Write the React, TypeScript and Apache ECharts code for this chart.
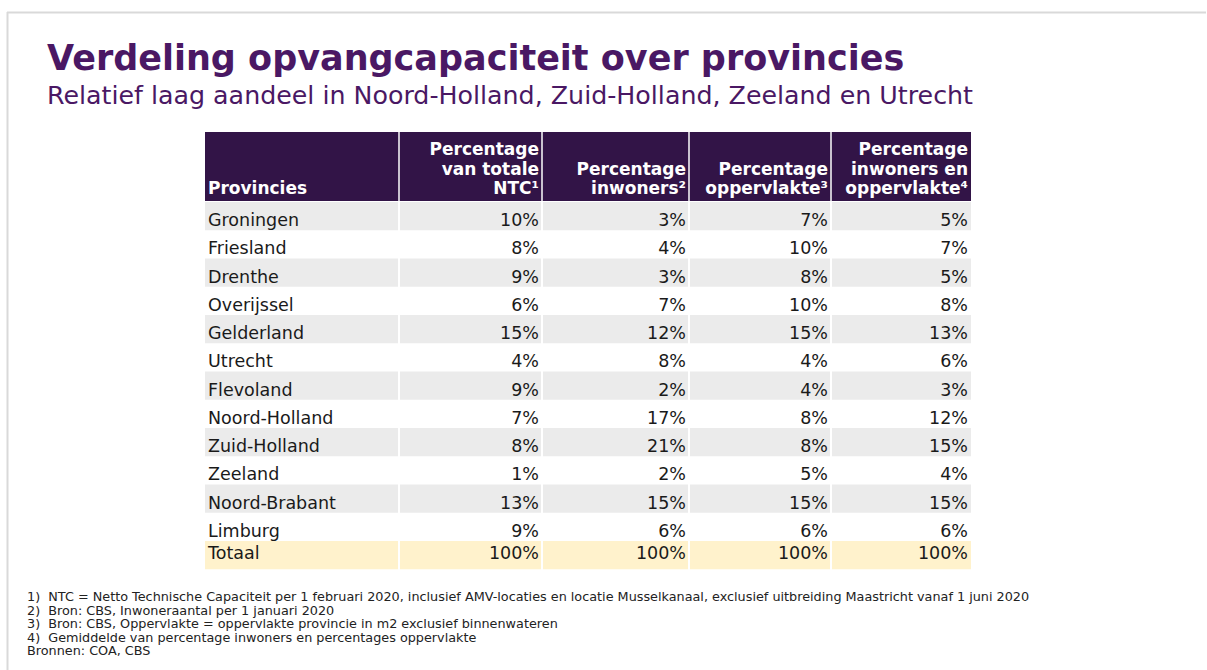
import React, { useEffect, useRef } from "react";
import * as echarts from "echarts";

// ---- data ----
const provinces = [
  "Groningen", "Friesland", "Drenthe", "Overijssel", "Gelderland", "Utrecht",
  "Flevoland", "Noord-Holland", "Zuid-Holland", "Zeeland", "Noord-Brabant", "Limburg",
];
const totalLabel = "Totaal";
const pctNTC = [10, 8, 9, 6, 15, 4, 9, 7, 8, 1, 13, 9];
const pctInwoners = [3, 4, 3, 7, 12, 8, 2, 17, 21, 2, 15, 6];
const pctOppervlakte = [7, 10, 8, 10, 15, 4, 4, 8, 8, 5, 15, 6];
const pctGemiddeld = [5, 7, 5, 8, 13, 6, 3, 12, 15, 4, 15, 6];
const totals = [100, 100, 100, 100];
const headers = [
  "Provincies",
  "Percentage\nvan totale\nNTC¹",
  "Percentage\ninwoners²",
  "Percentage\noppervlakte³",
  "Percentage\ninwoners en\noppervlakte⁴",
];
const titleText = "Verdeling opvangcapaciteit over provincies";
const subtitleText = "Relatief laag aandeel in Noord-Holland, Zuid-Holland, Zeeland en Utrecht";
const footnotes = [
  "1)  NTC = Netto Technische Capaciteit per 1 februari 2020, inclusief AMV-locaties en locatie Musselkanaal, exclusief uitbreiding Maastricht vanaf 1 juni 2020",
  "2)  Bron: CBS, Inwoneraantal per 1 januari 2020",
  "3)  Bron: CBS, Oppervlakte = oppervlakte provincie in m2 exclusief binnenwateren",
  "4)  Gemiddelde van percentage inwoners en percentages oppervlakte",
  "Bronnen: COA, CBS",
];

// ---- layout ----
const valueColumns = [pctNTC, pctInwoners, pctOppervlakte, pctGemiddeld];
const colWidths = [194, 143, 147, 142, 140];
const colEdges = colWidths.reduce((acc, w) => [...acc, acc[acc.length - 1] + w], [0]);
const tableWidth = colEdges[colEdges.length - 1];
const rowLabels = [...provinces, totalLabel];
const FONT = "'DejaVu Sans', Verdana, sans-serif";
const PURPLE = "#4a1864";
const HEADER_BG = "#321447";

export default function App() {
  const ref = useRef<HTMLDivElement>(null);
  useEffect(() => {
    if (!ref.current) return;
    const chart = echarts.init(ref.current, undefined, { renderer: "svg" });
    const nCols = colWidths.length;

    const bodyData: number[][] = [];
    rowLabels.forEach((_, r) => {
      for (let c = 0; c < nCols; c++) bodyData.push([c, r]);
    });

    const option: any = {
      animation: false,
      backgroundColor: "#ffffff",
      grid: { left: 205, top: 202, width: tableWidth, height: 13 * 28.25 },
      xAxis: { type: "value", min: 0, max: tableWidth, show: false },
      yAxis: { type: "category", data: rowLabels, inverse: true, show: false },
      graphic: [
        { type: "line", shape: { x1: 7, y1: 12.5, x2: 1206, y2: 12.5 }, style: { stroke: "#d9d9d9", lineWidth: 2 } },
        { type: "line", shape: { x1: 7.5, y1: 12, x2: 7.5, y2: 670 }, style: { stroke: "#d9d9d9", lineWidth: 2 } },
        {
          type: "text", left: 47, top: 40,
          style: { text: titleText, font: `bold 35px ${FONT}`, fill: PURPLE },
        },
        {
          type: "text", left: 47, top: 83,
          style: { text: subtitleText, font: `25.3px ${FONT}`, fill: PURPLE },
        },
        {
          type: "text", left: 27, top: 590,
          style: { text: footnotes.join("\n"), font: `12.8px ${FONT}`, fill: "#222222", lineHeight: 13.5 },
        },
      ],
      series: [
        {
          type: "custom",
          clip: false,
          silent: true,
          data: headers.map((_, i) => [i, 0]),
          renderItem: (params: any, api: any) => {
            const c = api.value(0);
            const x0 = api.coord([colEdges[c], 0])[0];
            const x1 = api.coord([colEdges[c + 1], 0])[0];
            const bh = api.size([0, 1])[1];
            const top = api.coord([0, 0])[1] - bh / 2;
            const children: any[] = [
              { type: "rect", shape: { x: x0, y: top - 70, width: x1 - x0, height: 69 }, style: { fill: HEADER_BG } },
            ];
            if (c > 0) {
              children.push({ type: "rect", shape: { x: x0 - 1, y: top - 70, width: 2, height: 69 }, style: { fill: "#c9c2cf" } });
            }
            children.push({
              type: "text",
              style: {
                text: headers[c],
                x: c === 0 ? x0 + 3 : x1 - 3,
                y: top - 4,
                align: c === 0 ? "left" : "right",
                verticalAlign: "bottom",
                font: `bold 17px ${FONT}`,
                lineHeight: 19.5,
                fill: "#ffffff",
              },
            });
            return { type: "group", children };
          },
        },
        {
          type: "custom",
          clip: false,
          silent: true,
          data: bodyData,
          renderItem: (params: any, api: any) => {
            const c = api.value(0);
            const r = api.value(1);
            const isTotal = r === provinces.length;
            const x0 = api.coord([colEdges[c], r])[0];
            const x1 = api.coord([colEdges[c + 1], r])[0];
            const cy = api.coord([0, r])[1];
            const bh = api.size([0, 1])[1];
            const left = x0 + (c > 0 ? 1 : 0);
            const right = x1 - (c < nCols - 1 ? 1 : 0);
            const fill = isTotal ? "#fff2cc" : r % 2 === 0 ? "#ebebeb" : null;
            const children: any[] = [];
            if (fill) {
              children.push({ type: "rect", shape: { x: left, y: cy - bh / 2, width: right - left, height: bh }, style: { fill } });
            }
            let text: string;
            if (c === 0) text = rowLabels[r];
            else text = (isTotal ? totals[c - 1] : valueColumns[c - 1][r]) + "%";
            children.push({
              type: "text",
              style: {
                text,
                x: c === 0 ? x0 + 3 : x1 - 3,
                y: cy + (isTotal ? -2 : 4),
                align: c === 0 ? "left" : "right",
                verticalAlign: "middle",
                font: `17.5px ${FONT}`,
                fill: "#1a1a1a",
              },
            });
            return { type: "group", children };
          },
        },
      ],
    };
    chart.setOption(option);
    return () => chart.dispose();
  }, []);
  return <div ref={ref} style={{ position: "fixed", left: 0, top: 0, width: 1207, height: 670 }} />;
}
